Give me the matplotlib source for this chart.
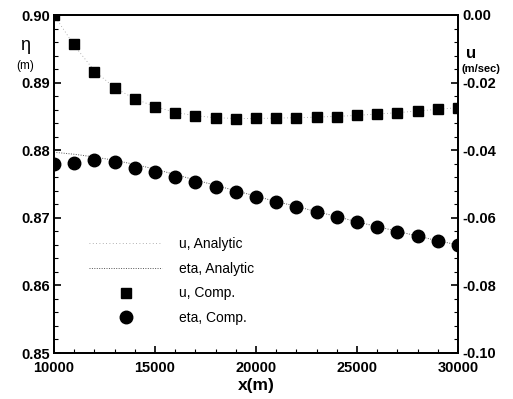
import matplotlib
matplotlib.use("Agg")
import matplotlib.pyplot as plt
from matplotlib.ticker import MultipleLocator

plt.rcParams["font.family"] = ["Liberation Sans", "DejaVu Sans"]

x_vals = [10000, 11000, 12000, 13000, 14000, 15000, 16000, 17000, 18000, 19000, 20000,
          21000, 22000, 23000, 24000, 25000, 26000, 27000, 28000, 29000, 30000]

u_comp = [0.0, -0.0086, -0.0169, -0.0216, -0.0249, -0.0272, -0.0290, -0.0299, -0.0305, -0.0308,
          -0.0305, -0.0305, -0.0305, -0.0302, -0.0302, -0.0296, -0.0293, -0.0290, -0.0284,
          -0.0278, -0.0275]
u_analytic = [0.0, -0.0090, -0.0165, -0.0215, -0.0248, -0.0271, -0.0288, -0.0298, -0.0304, -0.0306,
              -0.0306, -0.0305, -0.0304, -0.0302, -0.0300, -0.0297, -0.0293, -0.0289, -0.0284,
              -0.0279, -0.0274]

eta_comp = [0.8780, 0.8781, 0.8786, 0.8783, 0.8774, 0.8768, 0.8760, 0.8753, 0.8746, 0.8738,
            0.8731, 0.8723, 0.8716, 0.8709, 0.8701, 0.8694, 0.8686, 0.8679, 0.8673, 0.8666, 0.8660]
eta_analytic = [0.8797, 0.8794, 0.8790, 0.8785, 0.8779, 0.8772, 0.8764, 0.8756, 0.8748, 0.8740,
                0.8732, 0.8724, 0.8717, 0.8709, 0.8702, 0.8694, 0.8687, 0.8680, 0.8673, 0.8666, 0.8660]

x_ticks = [10000, 15000, 20000, 25000, 30000]
eta_ticks = [0.85, 0.86, 0.87, 0.88, 0.89, 0.90]
u_ticks = [-0.10, -0.08, -0.06, -0.04, -0.02, 0.00]

fig = plt.figure(figsize=(5.13, 3.99), dpi=100)
ax = fig.add_axes([54 / 513, 1 - 353 / 399, (458 - 54) / 513, (353 - 15) / 399])
ax2 = ax.twinx()

tick_font = dict(fontsize=10.5, fontweight="bold")

ax.plot(x_vals, eta_analytic, color="#555555", linestyle=(0, (1, 1.5)), linewidth=0.7, label="eta, Analytic")
ax.plot(x_vals, eta_comp, "o", color="black", markersize=9, label="eta, Comp.")

ax2.plot(x_vals, u_analytic, color="#999999", linestyle=(0, (1, 3)), linewidth=0.6, label="u, Analytic")
ax2.plot(x_vals, u_comp, "s", color="black", markersize=6.5, label="u, Comp.")

ax.set_xticks(x_ticks)
ax.set_xticklabels([f"{v}" for v in x_ticks], **tick_font)
ax.set_yticks(eta_ticks)
ax.set_yticklabels([f"{v:.2f}" for v in eta_ticks], **tick_font)
ax2.set_yticks(u_ticks)
ax2.set_yticklabels([f"{abs(v):.2f}" if v == 0 else f"{v:.2f}" for v in u_ticks], **tick_font)

ax.xaxis.set_minor_locator(MultipleLocator(1000))
ax.yaxis.set_minor_locator(MultipleLocator(0.002))
ax2.yaxis.set_minor_locator(MultipleLocator(0.004))

ax.set_xlim(10000, 30000)
ax.set_ylim(0.85, 0.90)
ax2.set_ylim(-0.10, 0.0)

ax.tick_params(axis="both", which="both", direction="in", top=False, right=False)
ax.tick_params(axis="y", which="major", length=5, width=1.2, pad=3)
ax.tick_params(axis="x", which="major", length=5, width=1.2, pad=6)
ax.tick_params(which="minor", length=3, width=0.8)
ax2.tick_params(axis="y", which="both", direction="in")
ax2.tick_params(which="major", length=5, width=1.2, pad=3)
ax2.tick_params(which="minor", length=3, width=0.8)

for a in (ax, ax2):
    for s in a.spines.values():
        s.set_linewidth(1.3)

ax.set_xlabel("x(m)", fontsize=12.5, fontweight="bold", labelpad=2)

fig.text(25 / 513, 1 - 46 / 399, "η", fontsize=13, ha="center", va="center")
fig.text(25 / 513, 1 - 66 / 399, "(m)", fontsize=8.5, ha="center", va="center")
fig.text(471 / 513, 1 - 53 / 399, "u", fontsize=12, fontweight="bold", ha="center", va="center")
fig.text(481 / 513, 1 - 69 / 399, "(m/sec)", fontsize=8, fontweight="bold", ha="center", va="center")

h1, l1 = ax.get_legend_handles_labels()
h2, l2 = ax2.get_legend_handles_labels()
handles = [h2[0], h1[0], h2[1], h1[1]]
labels = [l2[0], l1[0], l2[1], l1[1]]
ax.legend(handles, labels, loc="lower left", bbox_to_anchor=(0.055, 0.045), frameon=False,
          fontsize=10, handlelength=5.3, labelspacing=0.78, handletextpad=1.2)

fig.savefig("out.png", dpi=100)
